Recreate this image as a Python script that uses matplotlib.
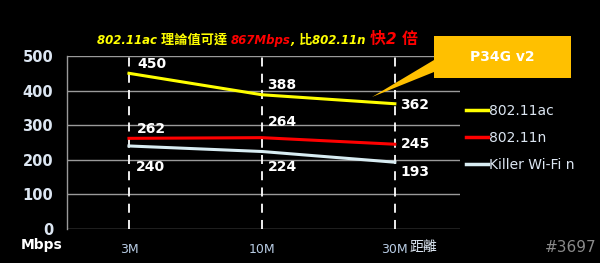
import matplotlib
matplotlib.use("Agg")
import matplotlib.pyplot as plt
from matplotlib.patches import Polygon, Rectangle
from matplotlib.lines import Line2D

categories = ["3M", "10M", "30M"]
series_names = ["802.11ac", "802.11n", "Killer Wi-Fi n"]
ac_vals = [450, 388, 362]
n_vals = [262, 264, 245]
killer_vals = [240, 224, 193]
yticks = [0, 100, 200, 300, 400, 500]

W, H = 600, 263
def fx(px): return px / W
def fy(py): return 1 - py / H

plt.rcParams['font.family'] = ['DejaVu Sans', 'Noto Sans CJK TC']
fig = plt.figure(figsize=(6, 2.63), dpi=100, facecolor='black')
ax = fig.add_axes([fx(67), fy(229), fx(460) - fx(67), fy(56) - fy(229)])
ax.set_facecolor('black')
x = list(range(len(categories)))
ax.set_xlim(-0.466, 2.49)
ax.set_ylim(0, 500)

for y in yticks:
    ax.axhline(y, color='#9a9a9a', lw=1.0, zorder=1)
for xi in x:
    ax.vlines(xi, 0, 500, colors='white', linestyles=(0, (5, 4)), lw=1.3, zorder=2)

colors = ['#ffff00', '#ff0000', '#d8ecf2']
for vals, c, name in zip([ac_vals, n_vals, killer_vals], colors, series_names):
    ax.plot(x, vals, color=c, lw=2.2, zorder=3, label=name)

lab_kw = dict(color='white', fontsize=10, fontweight='bold', zorder=5)
ax.annotate(str(ac_vals[0]), (x[0], ac_vals[0]), xytext=(6, 2), textcoords='offset points', va='bottom', ha='left', **lab_kw)
ax.annotate(str(ac_vals[1]), (x[1], ac_vals[1]), xytext=(4, 2), textcoords='offset points', va='bottom', ha='left', **lab_kw)
ax.annotate(str(ac_vals[2]), (x[2], ac_vals[2]), xytext=(4, -1), textcoords='offset points', va='center', ha='left', **lab_kw)
ax.annotate(str(n_vals[0]), (x[0], n_vals[0]), xytext=(6, 2), textcoords='offset points', va='bottom', ha='left', **lab_kw)
ax.annotate(str(n_vals[1]), (x[1], n_vals[1]), xytext=(4, 6), textcoords='offset points', va='bottom', ha='left', **lab_kw)
ax.annotate(str(n_vals[2]), (x[2], n_vals[2]), xytext=(4, 0), textcoords='offset points', va='center', ha='left', **lab_kw)
ax.annotate(str(killer_vals[0]), (x[0], killer_vals[0]), xytext=(5, -10), textcoords='offset points', va='top', ha='left', **lab_kw)
ax.annotate(str(killer_vals[1]), (x[1], killer_vals[1]), xytext=(4, -6), textcoords='offset points', va='top', ha='left', **lab_kw)
ax.annotate(str(killer_vals[2]), (x[2], killer_vals[2]), xytext=(4, -2), textcoords='offset points', va='top', ha='left', **lab_kw)

ax.set_yticks(yticks)
ax.set_yticklabels([str(v) for v in yticks], color='#dce6f2', fontsize=10.5, fontweight='bold')
ax.set_xticks(x)
ax.set_xticklabels(categories, color='#b8cce4', fontsize=9)
ax.tick_params(length=0, pad=10)
ax.tick_params(axis='y', pad=10)
for s in ['top', 'right', 'bottom']:
    ax.spines[s].set_visible(False)
ax.spines['left'].set_color('#9a9a9a')
ax.spines['left'].set_linewidth(1.0)

fig.text(fx(42), fy(245), "Mbps", color='white', fontsize=10, fontweight='bold', ha='center', va='center')
fig.text(fx(410), fy(247), "距離", color='#dce6f2', fontsize=10, ha='left', va='center',
         family=['Noto Sans CJK TC', 'DejaVu Sans'])
fig.text(fx(596), fy(247), "#3697", color='#8a8a8a', fontsize=11, ha='right', va='center')

handles = [Line2D([0], [0], color=c, lw=2.5) for c in colors]
leg = fig.legend(handles, series_names, loc='upper left', bbox_to_anchor=(fx(460), fy(98)),
                 frameon=False, fontsize=10, labelcolor='#dce6f2', handlelength=1.6,
                 handletextpad=0.1, labelspacing=0.95, borderaxespad=0)

# title pieces: (text, color, font family, size)
LAT = ['DejaVu Sans', 'Noto Sans CJK TC']
CJK = ['Noto Sans CJK TC', 'DejaVu Sans']
Y, R = '#ffff00', '#ff0000'
title_parts = [
    ("802.11ac ", Y, LAT, 8.5), ("理論值可達 ", Y, CJK, 9.5), ("867Mbps", R, LAT, 8.5),
    (", ", Y, LAT, 8.5), ("比", Y, CJK, 9.5), ("802.11n ", Y, LAT, 8.5),
    ("快", R, CJK, 11.5), ("2 ", R, LAT, 11), ("倍", R, CJK, 11.5),
]
renderer = fig.canvas.get_renderer()
cur = 97
for txt, col, fam, sz in title_parts:
    t = fig.text(fx(cur), fy(44), txt, color=col, fontsize=sz, style='italic', fontweight='bold',
                 family=fam, va='baseline', ha='left')
    bb = t.get_window_extent(renderer)
    cur = bb.x1

tri = Polygon([(fx(434), fy(60)), (fx(434), fy(72)), (fx(372), fy(97))], closed=True,
              transform=fig.transFigure, facecolor='#ffc000', edgecolor='none', zorder=6)
rect = Rectangle((fx(434), fy(78)), fx(571) - fx(434), fy(36) - fy(78), transform=fig.transFigure,
                 facecolor='#ffc000', edgecolor='none', zorder=6)
fig.patches.extend([tri, rect])
fig.text((fx(434) + fx(571)) / 2, (fy(36) + fy(78)) / 2, "P34G v2", color='white', fontsize=10,
         fontweight='bold', ha='center', va='center', zorder=7)

fig.savefig("out.png", dpi=100, facecolor='black')
